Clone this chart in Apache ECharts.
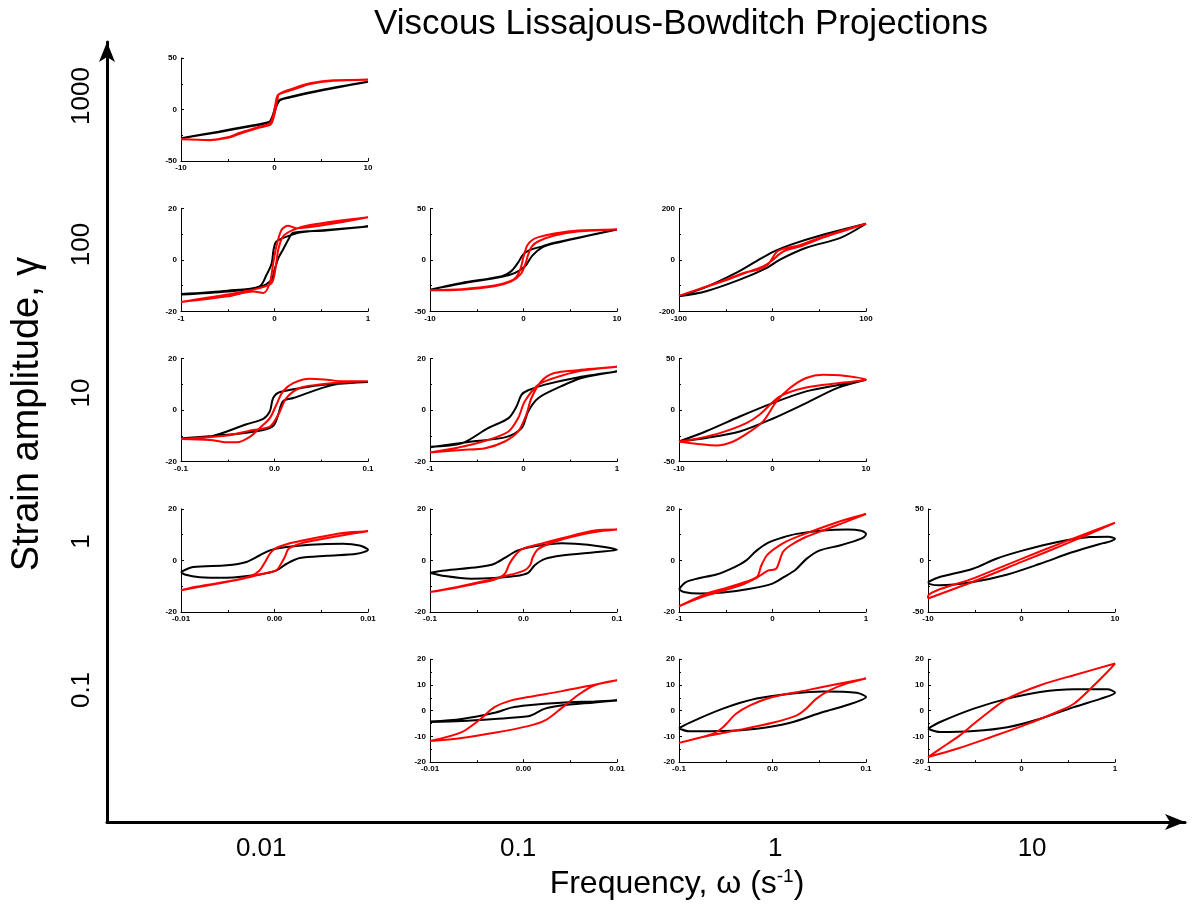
<!DOCTYPE html>
<html>
<head>
<meta charset="utf-8">
<title>Viscous Lissajous-Bowditch Projections</title>
<script src="https://cdn.jsdelivr.net/npm/echarts@6/dist/echarts.min.js"></script>
<style>
  html, body { margin: 0; padding: 0; background: #fff; }
  #chart { width: 1192px; height: 905px; }
</style>
</head>
<body>
<div id="chart"></div>
<script>
// outer axes: frequency (x) and strain amplitude (y), log10 positions
const freqTicks = [-2, -1, 0, 1];
const freqLabels = ['0.01', '0.1', '1', '10'];
const strainTicks = [-1, 0, 1, 2, 3];
const strainLabels = ['0.1', '1', '10', '100', '1000'];

// one entry per small panel
const panelStrain = [1000, 100, 100, 100, 10, 10, 10, 1, 1, 1, 1, 0.1, 0.1, 0.1];
const panelFreq   = [0.01, 0.01, 0.1, 1, 0.01, 0.1, 1, 0.01, 0.1, 1, 10, 0.1, 1, 10];
const panelXMax   = [10, 1, 10, 100, 0.1, 1, 10, 0.01, 0.1, 1, 10, 0.01, 0.1, 1];
const panelYMax   = [50, 20, 50, 200, 20, 20, 50, 20, 20, 20, 50, 20, 20, 20];
const panelYStep  = [50, 20, 50, 200, 20, 20, 50, 20, 20, 20, 50, 10, 10, 10];

// gamma = 1000
const black_1000_001 = [[-10,-28],[-6,-21.5],[-3,-16.5],[-1,-13],[-0.5,-11.5],[-0.2,-6],[0,0],[0.2,5.5],[0.6,9.5],[1.5,12],[5,19],[10,27],[5,18.5],[1.5,11.5],[0.6,9],[0.3,5],[0.1,0],[-0.1,-6],[-0.5,-12],[-1,-13.5],[-3,-17],[-6,-22],[-10,-28]];
const red_1000_001 = [[-10,-29],[-7,-29.5],[-5,-27],[-3.7,-22.6],[-1.6,-16.8],[-0.5,-13.5],[-0.2,-8],[0,0],[0.2,10],[0.4,14.5],[2,19.4],[3.8,24.8],[6.3,28],[10,29],[6.3,28.5],[3.8,25.5],[2,20.5],[0.5,15],[0.3,9],[0.1,0],[-0.1,-8],[-0.4,-14.5],[-1.6,-17.5],[-3.7,-23.5],[-5,-27.5],[-7,-29.8],[-10,-29]];

// gamma = 100
const black_100_001 = [[-1,-13.3],[-0.5,-12],[-0.16,-10.3],[-0.085,-5.8],[-0.03,-1.3],[-0.01,3.9],[0.02,7.1],[0.13,9],[0.27,10.6],[0.55,11.6],[1,12.9],[0.55,11.4],[0.2,10.5],[0.15,8],[0.09,3.9],[0.04,0.6],[0,-3.9],[-0.03,-7.7],[-0.16,-10.6],[-0.5,-12.3],[-1,-13.5]];
const red_100_001 = [[-1,-16.4],[-0.5,-14.2],[-0.23,-12.3],[-0.12,-12.9],[-0.05,-9],[-0.014,-1.3],[0.02,5.2],[0.075,11.6],[0.146,13.2],[0.23,12.3],[0.48,13.2],[1,16.5],[0.38,13.5],[0.2,11.6],[0.09,9],[0.04,3.9],[0.014,-2.6],[-0.03,-9],[-0.16,-11],[-0.51,-13.5],[-1,-16.4]];
const black_100_01 = [[-10,-29],[-6.6,-22.4],[-2.3,-16],[-1.3,-11],[-0.6,-3],[0,5.5],[0.8,10],[2,13],[3.3,16.5],[10,29.5],[3.3,16],[2,12],[0.9,3.6],[0.2,-6],[-0.9,-12.7],[-2.3,-16.5],[-6.6,-23],[-10,-29]];
const red_100_01 = [[-10,-29.5],[-6.6,-29],[-3.1,-25.8],[-1.3,-21],[-0.3,-14],[0.2,-4],[0.5,5],[0.9,13],[1.6,18],[3.3,23.5],[5.8,27.5],[10,29.5],[5.8,28.5],[3.3,25.5],[1.6,22],[0.9,19],[0.4,14],[0,3],[-0.3,-8],[-0.8,-17],[-1.5,-21],[-3.1,-25],[-6.6,-28.5],[-10,-29.5]];
const black_100_1 = [[-100,-142],[-70,-104],[-39,-51],[-17,-5],[0,30],[19,58],[54,97],[100,140],[72,84],[36,47],[8,1],[-6,-31],[-35,-77],[-71,-122],[-100,-142]];
const red_100_1 = [[-100,-140],[-50,-80],[-21,-40],[-10,-26],[0,-2],[8,24],[15,38],[29,51],[54,86],[100,140],[54,90],[29,57],[15,46],[5,32],[-5,-18],[-15,-38],[-30,-50],[-55,-84],[-100,-140]];

// gamma = 10
const black_10_001 = [[-0.1,-11],[-0.07,-10.4],[-0.03,-5.5],[-0.012,-3.4],[-0.005,-0.5],[-0.0014,4.7],[0.006,7],[0.038,9.2],[0.063,10.1],[0.1,10.9],[0.063,9.8],[0.02,4.7],[0.009,3.4],[0.004,-1.8],[-0.001,-6],[-0.012,-7.7],[-0.05,-9.6],[-0.1,-11]];
const red_10_001 = [[-0.1,-11.2],[-0.069,-11.6],[-0.051,-12.5],[-0.04,-12.5],[-0.026,-10.3],[-0.016,-7],[-0.005,-3.1],[0.002,2.1],[0.009,7.3],[0.02,10.5],[0.038,12.2],[0.056,11.8],[0.073,11.2],[0.1,11.2],[0.073,10.8],[0.048,9.9],[0.027,8.6],[0.0128,4.7],[0.004,-1.8],[-0.005,-6.4],[-0.023,-7.7],[-0.051,-9.9],[-0.1,-11.2]];
const black_10_01 = [[-1,-14.2],[-0.66,-12.9],[-0.38,-7],[-0.16,-3.1],[-0.075,1.4],[-0.02,6],[0.05,7.7],[0.23,9.9],[0.58,12.7],[1,15],[0.62,12.5],[0.4,9.2],[0.16,4.7],[0.05,-0.5],[-0.02,-7],[-0.2,-10.6],[-0.55,-12.2],[-1,-14.4]];
const red_10_01 = [[-1,-16.5],[-0.66,-15.5],[-0.41,-14.8],[-0.2,-12.2],[-0.057,-8.3],[0.03,-1.8],[0.085,4.7],[0.19,11.2],[0.33,14.4],[0.58,15.5],[1,16.8],[0.58,15],[0.33,12.5],[0.16,9.9],[0.014,3.4],[-0.057,-3.1],[-0.16,-8.3],[-0.38,-11.6],[-0.66,-14.2],[-1,-16.5]];
const black_10_1 = [[-10,-30.5],[-7.1,-20.5],[-3.5,-6.2],[0,6.8],[3.6,18.2],[7.2,24.7],[10,29.5],[6.9,21.4],[3.6,6.8],[0,-8.4],[-3.5,-20.8],[-7.1,-27],[-10,-30.5]];
const red_10_1 = [[-10,-30.5],[-7.8,-33.1],[-6,-34.4],[-4.2,-30.5],[-2.4,-20.8],[-1,-11],[0.43,8.4],[1.86,21.4],[3.6,31.2],[5.4,34.4],[7.2,33.8],[10,29.5],[7.2,26.3],[3.6,22],[0.8,13.3],[-1.4,-4.5],[-2.8,-12.7],[-5.3,-21.4],[-8.1,-27.9],[-10,-30.5]];

// gamma = 1
const black_1_001 = [[-0.01,-4.5],[-0.0087,-2.6],[-0.0051,-1.9],[-0.003,-0.6],[-0.0016,1.9],[-0.0005,3.9],[0.0013,5.2],[0.0038,6.1],[0.0073,6.5],[0.0091,5.8],[0.01,4.1],[0.0088,2.6],[0.0056,1.8],[0.0027,0.9],[0.0013,-1.3],[0.0002,-3.9],[-0.0016,-5.5],[-0.0051,-6.7],[-0.008,-6.5],[-0.0096,-5.5],[-0.01,-4.5]];
const red_1_001 = [[-0.01,-11.6],[-0.0069,-9.6],[-0.0033,-7],[-0.001,-5],[0.0002,-3.9],[0.0007,-1.3],[0.0011,1.3],[0.0015,4.5],[0.0025,6.2],[0.0038,7.4],[0.0073,9.8],[0.01,11.3],[0.0073,10.6],[0.0038,8.3],[0.0013,6.3],[0,4.5],[-0.0005,2.6],[-0.001,-0.6],[-0.0016,-3.9],[-0.0025,-6],[-0.0049,-8.1],[-0.0087,-10.4],[-0.01,-11.6]];
const black_1_01 = [[-0.1,-4.8],[-0.084,-3.9],[-0.048,-2.6],[-0.031,-1.3],[-0.016,1.9],[-0.006,3.9],[0.012,5.5],[0.041,6.7],[0.069,6.1],[0.1,4.1],[0.076,3.2],[0.041,1.9],[0.023,0.6],[0.012,-1.9],[0.005,-4.8],[-0.009,-6.1],[-0.031,-6.8],[-0.056,-7.1],[-0.084,-6.1],[-0.1,-4.8]];
const red_1_01 = [[-0.1,-12.3],[-0.066,-9.9],[-0.031,-7.1],[-0.013,-5.5],[0.001,-3.9],[0.007,-1.9],[0.01,1.3],[0.016,4.5],[0.041,8.1],[0.076,11],[0.1,12],[0.076,11.6],[0.041,8.6],[0.019,6.5],[-0.002,4.3],[-0.009,1.9],[-0.015,-1.3],[-0.02,-5.2],[-0.03,-7.3],[-0.048,-8.8],[-0.075,-10.8],[-0.1,-12.3]];
const black_1_1 = [[-1,-11.2],[-0.93,-8.5],[-0.8,-7],[-0.6,-5.5],[-0.4,-2.5],[-0.28,0],[-0.18,3.5],[-0.05,6.8],[0.1,8.8],[0.26,10.3],[0.54,11.6],[0.8,12],[0.95,11.5],[1,10.3],[0.97,8.8],[0.85,7.2],[0.72,5.8],[0.5,3.8],[0.36,0.5],[0.25,-3.5],[0.12,-6.5],[0,-9],[-0.24,-11],[-0.53,-12.5],[-0.78,-12.9],[-0.95,-12.3],[-1,-11.2]];
const red_1_1 = [[-1,-17.8],[-0.71,-13.7],[-0.35,-9.8],[-0.17,-6.8],[-0.05,-4],[0.04,-3.2],[0.11,3.2],[0.19,5.8],[0.35,9],[0.54,11.6],[0.75,14.5],[1,18],[0.75,15.5],[0.36,10.5],[0.15,7.4],[0.02,4.5],[-0.06,2],[-0.12,-2],[-0.17,-6.5],[-0.46,-10.3],[-0.71,-13],[-1,-17.8]];
const black_1_10 = [[-10,-21],[-8.75,-16.1],[-5.2,-8.1],[-2.7,1.6],[0.18,9.7],[3.75,17.7],[7.3,22.6],[9.3,23],[10,21],[9.5,18.5],[8.75,16.8],[5.5,8.1],[2,-3.2],[-1.6,-13.9],[-5.2,-21],[-8.75,-24.2],[-9.8,-23],[-10,-21]];
const red_1_10 = [[-10,-37],[-5,-20],[0,-1.5],[5,17],[10,36.5],[5,19.5],[0,1.5],[-5,-17],[-10,-35],[-10,-37]];

// gamma = 0.1
const black_01_001 = [[-0.01,-4.2],[-0.0066,-3.2],[-0.0031,-0.8],[-0.0013,1.2],[0.0005,2.1],[0.004,3.1],[0.0076,3.6],[0.01,4],[0.0076,3.2],[0.004,2],[0.0023,0.8],[0.0012,-1.2],[0.0005,-2.2],[-0.0031,-3.2],[-0.0066,-4],[-0.01,-4.4],[-0.01,-4.2]];
const red_01_001 = [[-0.01,-11.8],[-0.0066,-8.3],[-0.0048,-3.8],[-0.0031,1.4],[-0.0013,4],[0.0005,5.3],[0.004,7.5],[0.0076,10.1],[0.01,11.8],[0.0076,9.9],[0.0058,6],[0.004,0.8],[0.0023,-3.8],[0.0005,-6],[-0.0031,-8.6],[-0.0066,-10.6],[-0.01,-11.8]];
const black_01_01 = [[-0.1,-6.8],[-0.089,-4.7],[-0.053,0.8],[-0.017,4.7],[0.019,6.6],[0.054,7.5],[0.09,7],[0.1,5.3],[0.079,2.1],[0.054,-0.5],[0.019,-4.7],[-0.017,-7],[-0.053,-7.9],[-0.089,-8],[-0.1,-6.8]];
const red_01_01 = [[-0.1,-12.5],[-0.071,-9.9],[-0.035,-7.4],[0,-4.7],[0.026,-1.8],[0.036,0.8],[0.047,4.7],[0.061,7.9],[0.079,10.5],[0.1,12.5],[0.071,10.5],[0.036,7.9],[0,5.3],[-0.024,2.1],[-0.039,-1.2],[-0.053,-6.4],[-0.064,-9],[-0.1,-12.5]];
const black_01_1 = [[-1,-7],[-0.87,-4.4],[-0.51,0.8],[-0.15,4.7],[0.2,7.3],[0.56,8.3],[0.92,8.3],[1,7],[0.85,4.7],[0.56,1.4],[0.2,-3.1],[-0.15,-6.4],[-0.51,-7.9],[-0.87,-8.3],[-1,-7]];
const red_01_1 = [[-1,-18],[-0.69,-14.8],[-0.33,-10.3],[0.025,-5.7],[0.38,-0.5],[0.56,2.7],[0.74,8.6],[0.92,15.1],[1,18.3],[0.56,13.8],[0.2,9.9],[-0.15,4.7],[-0.33,0.1],[-0.51,-5.1],[-0.66,-9.6],[-0.87,-14.8],[-1,-18]];

const panelBlack = [black_1000_001, black_100_001, black_100_01, black_100_1,
    black_10_001, black_10_01, black_10_1,
    black_1_001, black_1_01, black_1_1, black_1_10,
    black_01_001, black_01_01, black_01_1];
const panelRed = [red_1000_001, red_100_001, red_100_01, red_100_1,
    red_10_001, red_10_01, red_10_1,
    red_1_001, red_1_01, red_1_1, red_1_10,
    red_01_001, red_01_01, red_01_1];

const FONT = "'Liberation Sans', Arial, sans-serif";

function decimals(v) {
    if (v >= 1) return 0;
    return Math.round(-Math.log10(v));
}

function buildOption() {
    let grids = [], xAxes = [], yAxes = [], series = [];

    panelStrain.forEach(function (g, i) {
        let row = 3 - Math.round(Math.log10(g));
        let col = Math.round(Math.log10(panelFreq[i])) + 2;
        let xm = panelXMax[i], ym = panelYMax[i];
        let dec = decimals(xm);
        let tickStyle = { color: '#000', width: 1 };
        let labelStyle = { fontFamily: FONT, fontSize: 8, fontWeight: 'bold', color: '#000' };

        grids.push({ left: 181 + col * 249, top: 58 + row * 150.3, width: 187, height: 103 });
        xAxes.push({
            type: 'value', gridIndex: i, min: -xm, max: xm, interval: xm,
            axisLine: { onZero: false, lineStyle: tickStyle },
            axisTick: { inside: true, length: 3, lineStyle: tickStyle },
            minorTick: { show: true, splitNumber: 2, length: 2, lineStyle: tickStyle },
            splitLine: { show: false },
            axisLabel: Object.assign({ margin: 3, formatter: function (v) { return v.toFixed(dec); } }, labelStyle)
        });
        yAxes.push({
            type: 'value', gridIndex: i, min: -ym, max: ym, interval: panelYStep[i],
            axisLine: { onZero: false, lineStyle: tickStyle },
            axisTick: { inside: true, length: 3, lineStyle: tickStyle },
            minorTick: { show: true, splitNumber: 2, length: 2, lineStyle: tickStyle },
            splitLine: { show: false },
            axisLabel: Object.assign({ margin: 4 }, labelStyle)
        });
        series.push({
            type: 'line', xAxisIndex: i, yAxisIndex: i, data: panelBlack[i],
            showSymbol: false, smooth: 0.3, lineStyle: { color: '#000', width: 2 }
        });
        series.push({
            type: 'line', xAxisIndex: i, yAxisIndex: i, data: panelRed[i],
            showSymbol: false, smooth: 0.3, lineStyle: { color: '#ff0000', width: 2 }
        });
    });

    // outer arrow axes
    let outer = panelStrain.length;
    grids.push({ left: 107, right: 7, top: 42, bottom: 83 });
    xAxes.push({
        type: 'value', gridIndex: outer, min: -2.6, max: 1.595,
        name: '{a|Frequency, ω (s}{sup|-1}{a|)}',
        nameLocation: 'middle', nameGap: 44,
        nameTextStyle: {
            padding: [0, 0, 0, 62],
            rich: {
                a: { fontFamily: FONT, fontSize: 32, color: '#000' },
                sup: { fontFamily: FONT, fontSize: 19, color: '#000', padding: [0, 0, 15, 0] }
            }
        },
        axisLine: { onZero: false, lineStyle: { color: '#000', width: 3 }, symbol: ['none', 'arrow'], symbolSize: [12, 20] },
        axisTick: { show: false },
        splitLine: { show: false },
        axisLabel: {
            customValues: freqTicks, margin: 14,
            fontFamily: FONT, fontSize: 26, color: '#000',
            formatter: function (v) { return freqLabels[freqTicks.indexOf(Math.round(v))]; }
        }
    });
    yAxes.push({
        type: 'value', gridIndex: outer, min: -1.889, max: 3.364,
        name: 'Strain amplitude, γ',
        nameLocation: 'middle', nameGap: 60, nameRotate: 90,
        nameTextStyle: { fontFamily: FONT, fontSize: 38, color: '#000', padding: [0, 0, 0, 36] },
        axisLine: { onZero: false, lineStyle: { color: '#000', width: 3 }, symbol: ['none', 'arrow'], symbolSize: [12, 20] },
        axisTick: { show: false },
        splitLine: { show: false },
        axisLabel: {
            customValues: strainTicks, margin: 12, rotate: 90,
            fontFamily: FONT, fontSize: 26, color: '#000',
            formatter: function (v) { return strainLabels[strainTicks.indexOf(Math.round(v))]; }
        }
    });

    return {
        animation: false,
        backgroundColor: '#fff',
        title: {
            text: 'Viscous Lissajous-Bowditch Projections',
            left: 676, top: 2, textAlign: 'center',
            textStyle: { fontFamily: FONT, fontSize: 35, fontWeight: 'normal', color: '#000' }
        },
        grid: grids,
        xAxis: xAxes,
        yAxis: yAxes,
        series: series
    };
}

let chart = echarts.init(document.getElementById('chart'));
chart.setOption(buildOption());
</script>
</body>
</html>
